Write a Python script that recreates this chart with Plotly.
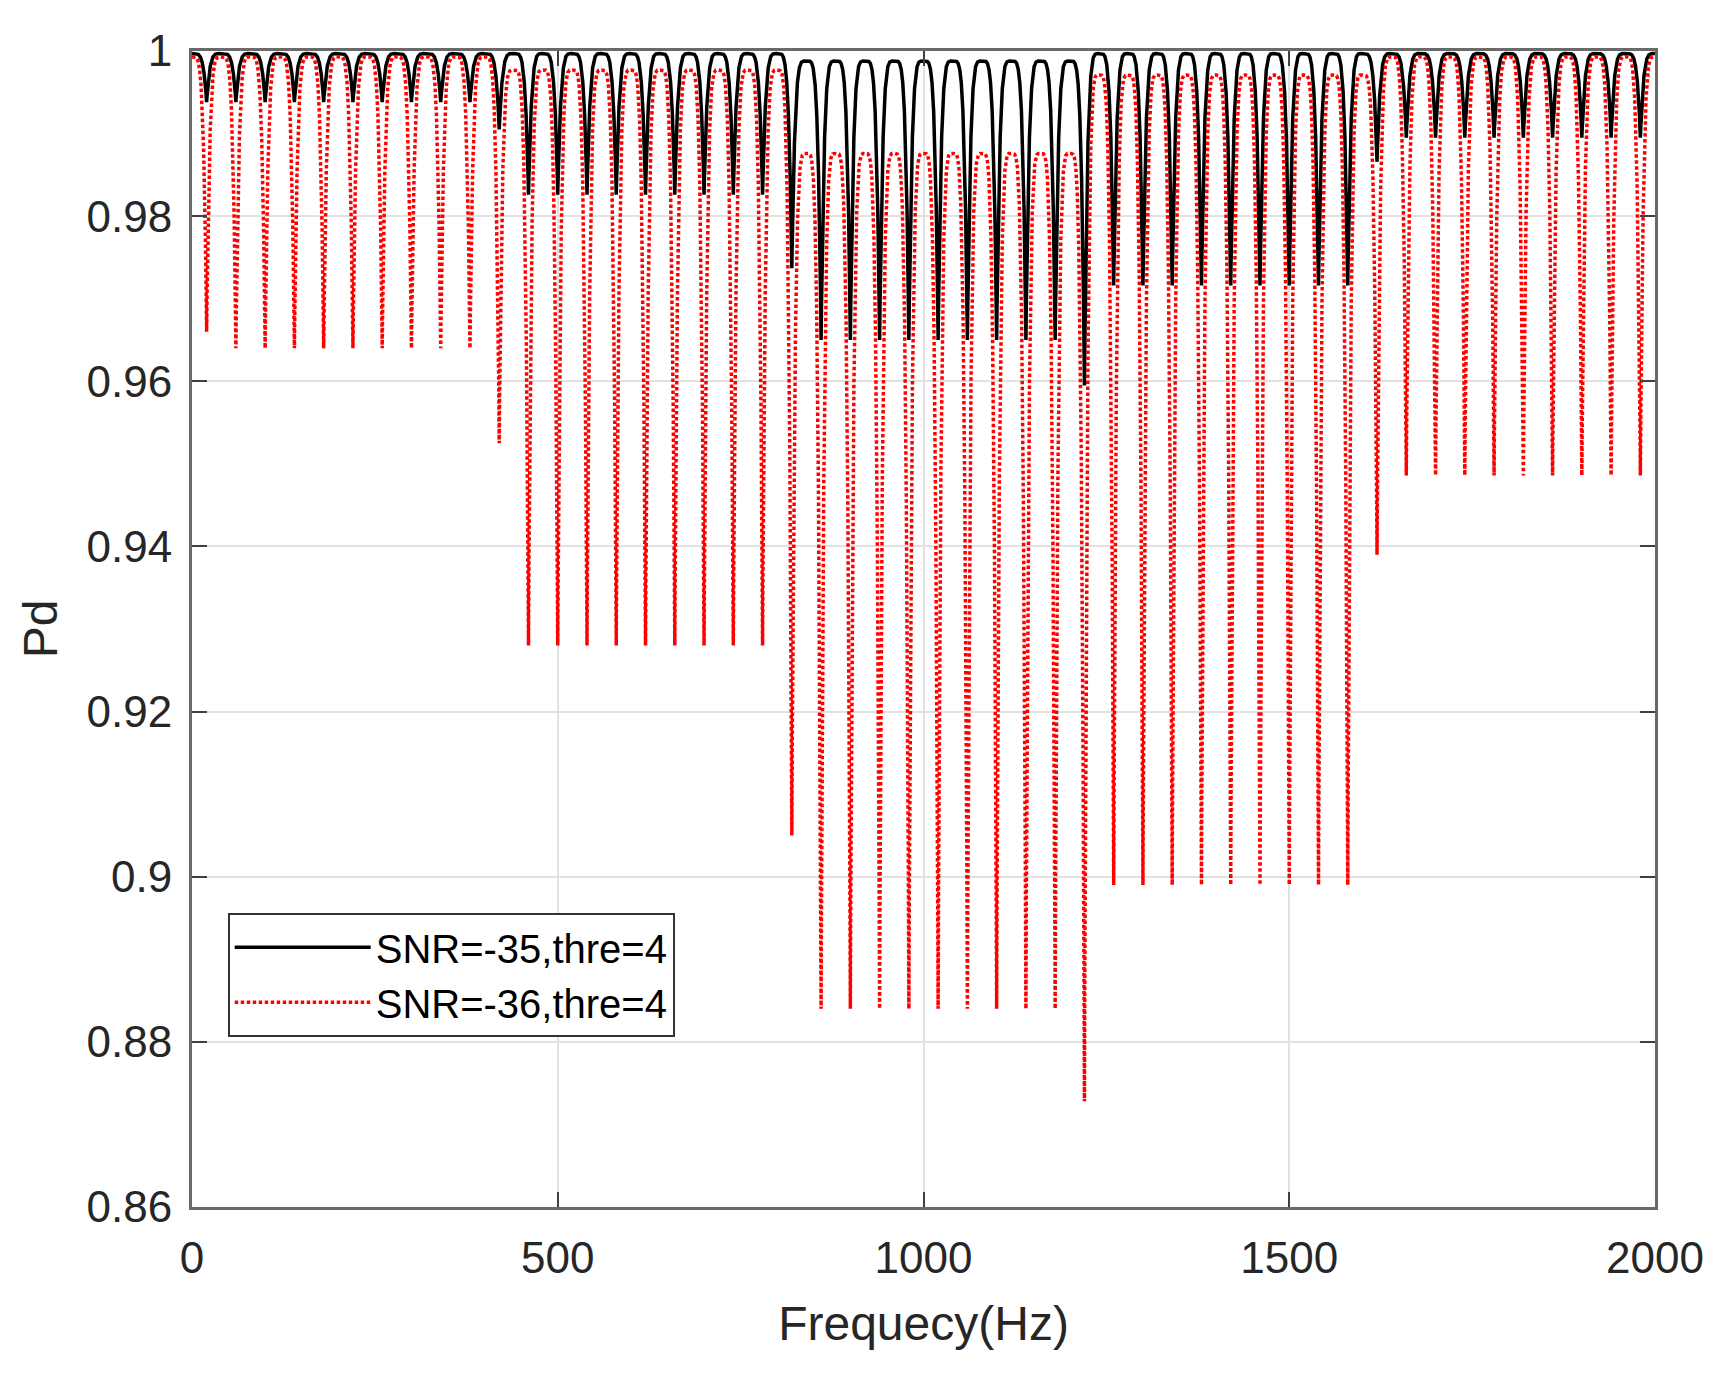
import numpy as np
import plotly.graph_objects as go

# ---------------- data ----------------
# frequencies (Hz) of the detection-probability dips (bin edges)
DIP_FREQ = [20, 60, 100, 140, 180, 220, 260, 300, 340, 380,
            420, 460, 500, 540, 580, 620, 660, 700, 740, 780,
            820, 860, 900, 940, 980, 1020, 1060, 1100, 1140, 1180,
            1220, 1260, 1300, 1340, 1380, 1420, 1460, 1500, 1540, 1580,
            1620, 1660, 1700, 1740, 1780, 1820, 1860, 1900, 1940, 1980]

# minimum Pd at each dip, SNR=-35
BLACK_DIP = [0.9938, 0.9938, 0.9938, 0.9938, 0.9938, 0.9938, 0.9938, 0.9938, 0.9938, 0.9938,
             0.9905, 0.9826, 0.9826, 0.9826, 0.9826, 0.9826, 0.9826, 0.9826, 0.9826, 0.9826,
             0.9737, 0.9650, 0.9650, 0.9650, 0.9650, 0.9650, 0.9650, 0.9650, 0.9650, 0.9650,
             0.9595, 0.9716, 0.9716, 0.9716, 0.9716, 0.9716, 0.9716, 0.9716, 0.9716, 0.9716,
             0.9866, 0.9895, 0.9895, 0.9895, 0.9895, 0.9895, 0.9895, 0.9895, 0.9895, 0.9895]

# minimum Pd at each dip, SNR=-36
RED_DIP = [0.9660, 0.9640, 0.9640, 0.9640, 0.9640, 0.9640, 0.9640, 0.9640, 0.9640, 0.9640,
           0.9525, 0.9280, 0.9280, 0.9280, 0.9280, 0.9280, 0.9280, 0.9280, 0.9280, 0.9280,
           0.9050, 0.8840, 0.8840, 0.8840, 0.8840, 0.8840, 0.8840, 0.8840, 0.8840, 0.8840,
           0.8728, 0.8990, 0.8990, 0.8990, 0.8990, 0.8990, 0.8990, 0.8990, 0.8990, 0.8990,
           0.9390, 0.9486, 0.9486, 0.9486, 0.9486, 0.9486, 0.9486, 0.9486, 0.9486, 0.9486]

# arch centres (bin centres, Hz) and peak Pd of each arch
ARCH_CENTER = [0, 40, 80, 120, 160, 200, 240, 280, 320, 360, 400,
               440, 480, 520, 560, 600, 640, 680, 720, 760, 800,
               840, 880, 920, 960, 1000, 1040, 1080, 1120, 1160, 1200,
               1240, 1280, 1320, 1360, 1400, 1440, 1480, 1520, 1560, 1600,
               1640, 1680, 1720, 1760, 1800, 1840, 1880, 1920, 1960, 2000]

BLACK_TOP = [0.9997] * 11 + [0.9997] * 10 + [0.9988] * 10 + [0.9997] * 10 + [0.9997] * 10
RED_TOP = [0.9993] * 11 + [0.9977] * 10 + [0.9876] * 10 + [0.9971] * 10 + [0.9993] * 10

X_TICKS = [0, 500, 1000, 1500, 2000]
X_TICKTEXT = ["0", "500", "1000", "1500", "2000"]
Y_TICKS = [0.86, 0.88, 0.90, 0.92, 0.94, 0.96, 0.98, 1.00]
Y_TICKTEXT = ["0.86", "0.88", "0.9", "0.92", "0.94", "0.96", "0.98", "1"]

SERIES_NAMES = ["SNR=-35,thre=4", "SNR=-36,thre=4"]

# ---------------- build the scalloped curves ----------------
SHAPE_K = 4.7
freq = np.linspace(0, 2000, 40001)
dips = np.array(DIP_FREQ, dtype=float)
centers = np.array(ARCH_CENTER, dtype=float)
spacing = dips[1] - dips[0]


def curve(dip_vals, top_vals):
    dip_vals = np.asarray(dip_vals)
    top_vals = np.asarray(top_vals)
    i = np.abs(freq[:, None] - dips[None, :]).argmin(axis=1)
    j = np.abs(freq[:, None] - centers[None, :]).argmin(axis=1)
    d = np.clip(np.abs(freq - dips[i]) / spacing, 0, 0.5)
    top = top_vals[j]
    return top - (top - dip_vals[i]) * (1 - 2 * d) ** SHAPE_K


y_black = curve(BLACK_DIP, BLACK_TOP)
y_red = curve(RED_DIP, RED_TOP)

FONT = "Liberation Sans, Arial, Helvetica, sans-serif"
TXT = "#262626"

fig = go.Figure()
fig.add_trace(go.Scatter(x=freq, y=y_black, mode="lines", name=SERIES_NAMES[0],
                         line=dict(color="black", width=3.5)))
fig.add_trace(go.Scatter(x=freq, y=y_red, mode="lines", name=SERIES_NAMES[1],
                         line=dict(color="#ff0000", width=3.5, dash="3.5px,2.5px")))

axis_common = dict(
    showline=True, linecolor="#6a6a6a", linewidth=3, mirror="ticks",
    ticks="inside", ticklen=15, tickwidth=2, tickcolor="#404040",
    showgrid=True, gridcolor="#e2e2e2", gridwidth=2, zeroline=False,
    tickfont=dict(family=FONT, size=44, color=TXT),
)

fig.update_layout(
    width=1731, height=1376, autosize=False,
    margin=dict(l=192, r=76, t=51, b=169),
    paper_bgcolor="white", plot_bgcolor="white",
    font=dict(family=FONT, color=TXT),
    xaxis=dict(range=[0, 2000], tickvals=X_TICKS, ticktext=X_TICKTEXT,
               ticklabelstandoff=10,
               title=dict(text="Frequecy(Hz)", font=dict(family=FONT, size=48, color=TXT), standoff=26),
               **axis_common),
    yaxis=dict(range=[0.86, 1.0], tickvals=Y_TICKS, ticktext=Y_TICKTEXT,
               ticklabelstandoff=8,
               title=dict(text="Pd", font=dict(family=FONT, size=48, color=TXT), standoff=14),
               **axis_common),
    legend=dict(x=0.0244, y=0.2546, xanchor="left", yanchor="top",
                bgcolor="white", bordercolor="#333333", borderwidth=2,
                font=dict(family=FONT, size=40, color="black"),
                itemwidth=136, tracegroupgap=0),
    showlegend=True,
)

fig.write_html("out.html", config={"displayModeBar": False},
               post_script="document.body.style.margin='0';")
